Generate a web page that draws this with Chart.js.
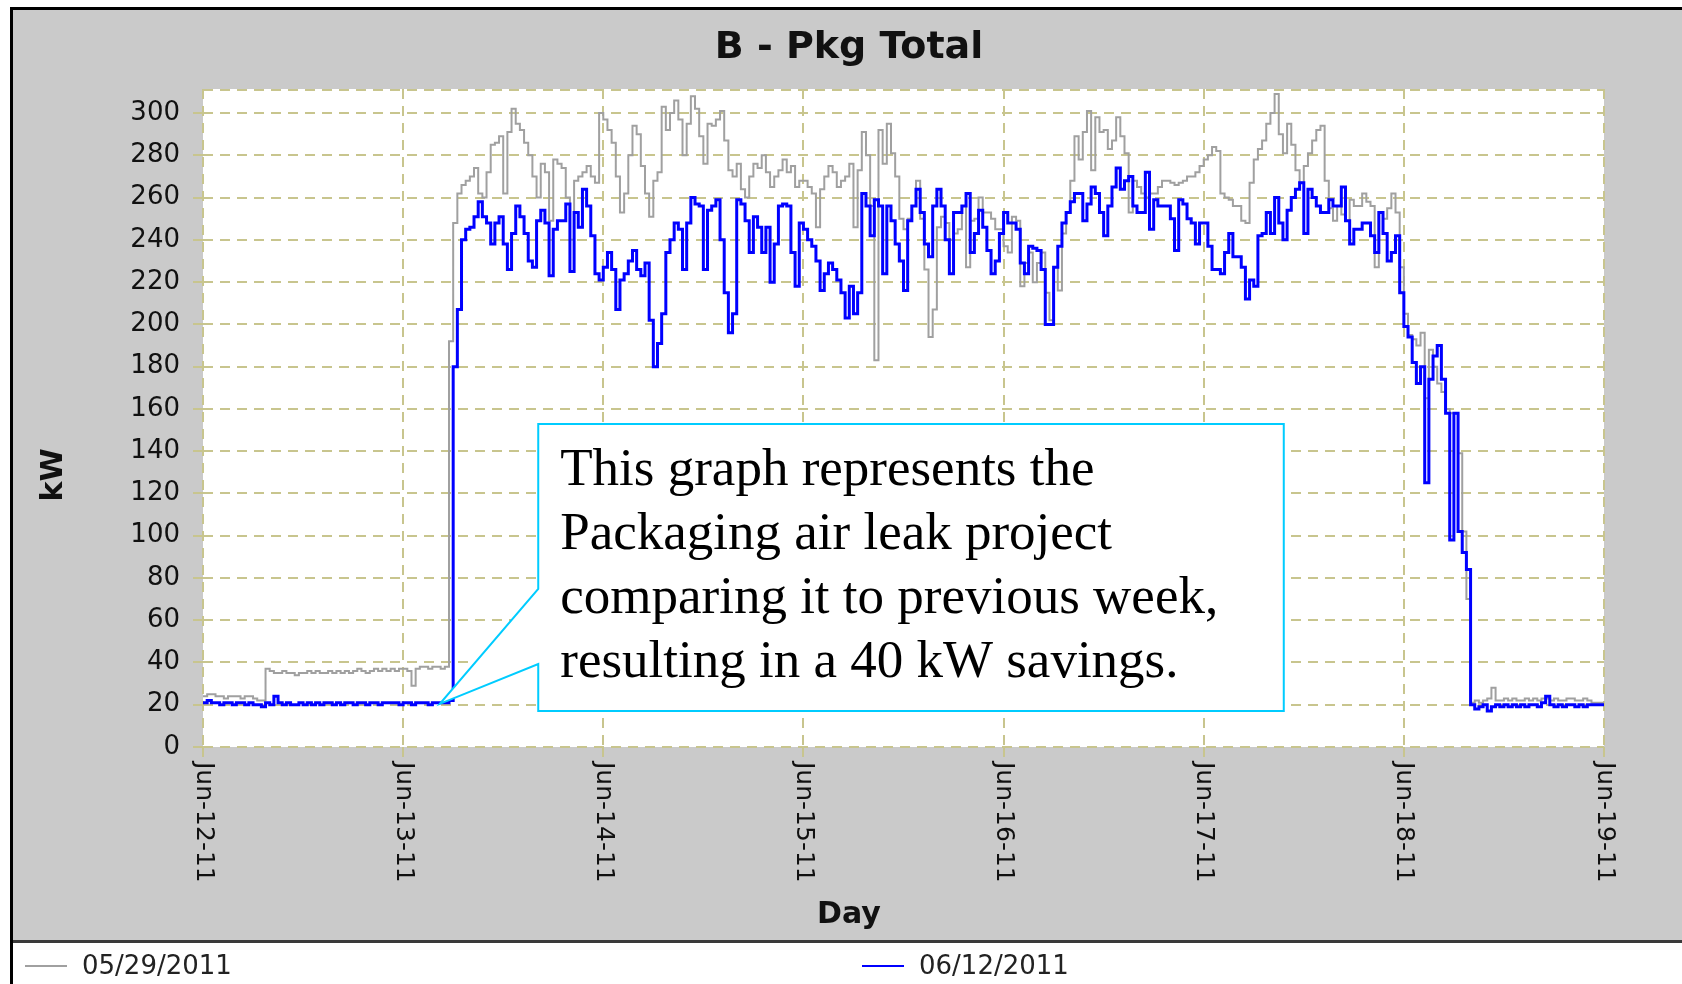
<!DOCTYPE html>
<html>
<head>
<meta charset="utf-8">
<title>B - Pkg Total</title>
<script src="https://cdn.jsdelivr.net/npm/chart.js@4.4.0/dist/chart.umd.min.js"></script>
<style>
  html, body { margin: 0; padding: 0; background: #fff; }
  #pkgChart { display: block; }
</style>
</head>
<body>
<canvas id="pkgChart" width="1682" height="984"></canvas>
<script>
// kW readings every 30 minutes, Jun-12-11 00:00 .. Jun-19-11 00:00 (one row per day)
const STEP_HOURS = 0.5;

const prevWeekKw = [ // 05/29/2011
  24,25,25,24,24,23,24,24,24,23,24,24,23,22,22,37,36,35,35,36,35,35,34,35,35,36,35,36,35,35,36,35,36,35,36,35,36,37,36,35,36,37,36,37,36,37,36,37,
  37,36,29,37,38,38,37,38,38,37,38,192,248,262,266,268,270,274,262,260,272,285,286,289,262,291,302,295,292,286,280,270,260,276,272,249,278,276,274,260,240,268,270,272,275,270,267,300,
  297,292,286,270,253,262,280,294,290,275,262,251,268,272,303,292,300,306,297,280,295,308,302,289,276,295,294,297,301,287,273,270,276,264,260,270,276,274,280,272,265,270,273,278,272,275,265,268,
  268,265,262,246,264,270,275,272,265,268,270,276,246,273,291,280,256,183,292,276,295,281,270,250,245,250,256,268,250,226,194,207,246,251,248,240,243,245,256,227,249,250,260,253,253,250,245,245,
  237,234,251,249,218,229,234,220,229,234,215,202,227,216,243,253,268,289,278,291,301,273,298,291,292,283,287,298,289,281,253,268,265,262,260,262,262,265,268,268,267,266,267,268,270,270,272,275,
  278,280,284,282,262,260,259,256,256,249,248,267,278,283,287,295,300,309,290,281,295,285,273,267,275,281,287,292,294,268,255,249,256,252,249,259,256,256,262,258,256,227,253,250,255,262,253,227,
  205,195,193,190,196,165,188,180,172,168,160,158,158,139,102,70,21,22,21,22,23,28,22,22,23,22,23,22,22,23,22,23,22,23,23,22,23,22,22,23,23,22,22,23,22,21,21,21,21
];

const thisWeekKw = [ // 06/12/2011
  21,22,21,21,20,21,21,20,21,21,20,21,20,20,19,21,20,24,21,20,21,20,20,21,20,21,20,21,20,21,21,20,21,20,21,21,20,21,21,20,21,21,20,21,21,21,21,20,
  21,21,20,21,21,21,20,21,21,21,21,22,180,207,240,245,246,251,258,251,248,238,248,251,238,226,243,256,251,243,230,227,249,254,248,223,245,249,249,257,225,253,246,264,256,242,224,221,
  227,234,226,207,221,224,230,235,226,223,229,202,180,191,205,234,240,248,245,226,248,260,257,256,226,254,256,259,240,215,196,205,259,257,249,234,251,246,234,246,220,238,256,257,256,234,218,248,
  245,240,237,230,216,224,229,226,221,215,203,218,205,215,262,256,242,259,256,224,256,249,238,230,216,249,256,264,253,238,232,256,264,256,240,224,253,253,256,262,234,243,254,246,235,224,230,243,
  253,248,248,245,229,224,237,236,235,226,200,200,227,237,248,253,258,262,262,249,257,265,262,253,242,256,265,274,264,268,270,256,253,253,272,245,259,256,256,256,250,235,259,257,250,248,238,248,
  248,237,226,226,224,234,243,232,232,227,212,221,218,242,243,253,243,260,248,240,254,260,264,267,243,264,260,256,253,253,259,256,256,265,249,238,245,245,248,248,242,234,253,243,230,234,242,215,
  199,194,182,172,180,125,174,185,190,174,158,98,158,102,92,84,20,18,19,20,17,19,20,19,20,19,20,19,20,19,20,20,19,21,24,20,19,20,19,20,20,19,20,19,20,20,20,20,20
];

const seriesNames = ['05/29/2011', '06/12/2011'];
const seriesColors = ['#a0a0a0', '#0000ff'];
const dayTicks = [0, 24, 48, 72, 96, 120, 144, 168];
const dayLabels = ['Jun-12-11', 'Jun-13-11', 'Jun-14-11', 'Jun-15-11', 'Jun-16-11', 'Jun-17-11', 'Jun-18-11', 'Jun-19-11'];
const kwTicks = [0, 20, 40, 60, 80, 100, 120, 140, 160, 180, 200, 220, 240, 260, 280, 300];
const noteLines = [
  'This graph represents the',
  'Packaging air leak project',
  'comparing it to previous week,',
  'resulting in a 40 kW savings.'
];

const GRID = 'rgb(200,197,142)';
const GRID_DASH = [10, 7];
const SANS = '"DejaVu Sans", Verdana, sans-serif';

// callout box, placed in axis units (hours, kW)
const note = { tipH: 28.4, tipKw: 20.4, leftH: 40.2, rightH: 129.6, topKw: 152.9, bottomKw: 17, joinHiKw: 74.8, joinLoKw: 39.3 };

const toPoints = arr => arr.map((v, i) => ({ x: i * STEP_HOURS, y: v }));

const panelPlugin = {
  id: 'panel',
  beforeDraw(chart) {
    const { ctx, width, height, chartArea: a } = chart;
    ctx.save();
    ctx.fillStyle = '#ffffff';
    ctx.fillRect(0, 0, width, height);
    ctx.fillStyle = '#cacaca';              // grey panel
    ctx.fillRect(13, 10, width - 13, 930);
    ctx.fillStyle = '#000000';              // outer frame
    ctx.fillRect(10, 7, width - 10, 3);
    ctx.fillRect(10, 7, 3, height - 7);
    ctx.fillStyle = '#3a3a3a';              // legend separator
    ctx.fillRect(13, 940, width - 13, 3);
    ctx.fillStyle = '#ffffff';              // plot background
    ctx.fillRect(a.left, a.top, a.right - a.left, a.bottom - a.top);
    ctx.restore();
  },
  beforeDatasetsDraw(chart) {
    // dashed top edge of the plot
    const { ctx, chartArea: a } = chart;
    ctx.save();
    ctx.strokeStyle = GRID;
    ctx.lineWidth = 2;
    ctx.setLineDash(GRID_DASH);
    ctx.beginPath();
    ctx.moveTo(a.left, a.top + 1);
    ctx.lineTo(a.right, a.top + 1);
    ctx.stroke();
    ctx.restore();
  },
  afterDatasetsDraw(chart) {
    const { ctx } = chart;
    const xs = chart.scales.x, ys = chart.scales.y;
    const L = xs.getPixelForValue(note.leftH), R = xs.getPixelForValue(note.rightH);
    const T = ys.getPixelForValue(note.topKw), B = ys.getPixelForValue(note.bottomKw);
    ctx.save();
    ctx.beginPath();
    ctx.moveTo(L, T);
    ctx.lineTo(R, T);
    ctx.lineTo(R, B);
    ctx.lineTo(L, B);
    ctx.lineTo(L, ys.getPixelForValue(note.joinLoKw));
    ctx.lineTo(xs.getPixelForValue(note.tipH), ys.getPixelForValue(note.tipKw));
    ctx.lineTo(L, ys.getPixelForValue(note.joinHiKw));
    ctx.closePath();
    ctx.fillStyle = '#ffffff';
    ctx.fill();
    ctx.strokeStyle = '#00ccff';
    ctx.lineWidth = 2;
    ctx.stroke();
    ctx.fillStyle = '#000000';
    ctx.font = '53px "Liberation Serif", "Times New Roman", serif';
    ctx.textAlign = 'left';
    ctx.textBaseline = 'alphabetic';
    noteLines.forEach((line, i) => ctx.fillText(line, L + 22, T + 61 + i * 64));
    ctx.restore();
  },
  afterDraw(chart) {
    const { ctx, chartArea: a } = chart;
    const xs = chart.scales.x;
    ctx.save();
    ctx.fillStyle = '#111111';

    // title
    ctx.font = 'bold 38px ' + SANS;
    ctx.textAlign = 'center';
    ctx.textBaseline = 'alphabetic';
    ctx.fillText('B - Pkg Total', 849, 58);

    // axis titles
    ctx.font = 'bold 30px ' + SANS;
    ctx.fillText('Day', 849, 923);
    ctx.save();
    ctx.translate(54, 475);
    ctx.rotate(-Math.PI / 2);
    ctx.textBaseline = 'middle';
    ctx.fillText('kW', 0, 0);
    ctx.restore();

    // day labels, turned to read downward
    ctx.font = '25px ' + SANS;
    ctx.textAlign = 'left';
    ctx.textBaseline = 'middle';
    xs.ticks.forEach((t, i) => {
      ctx.save();
      ctx.translate(xs.getPixelForValue(t.value), a.bottom + 15);
      ctx.rotate(Math.PI / 2);
      ctx.fillText(dayLabels[i], 0, 0);
      ctx.restore();
    });

    // legend
    const legendX = [25, 862];
    ctx.font = '26px ' + SANS;
    chart.data.datasets.forEach((ds, i) => {
      ctx.strokeStyle = ds.borderColor;
      ctx.lineWidth = 2;
      ctx.beginPath();
      ctx.moveTo(legendX[i], 966);
      ctx.lineTo(legendX[i] + 42, 966);
      ctx.stroke();
      ctx.fillStyle = '#222222';
      ctx.fillText(ds.label, legendX[i] + 57, 967);
    });
    ctx.restore();
  }
};

const gridOpts = { color: GRID, lineWidth: 2, tickLength: 10, tickColor: GRID, tickWidth: 2 };

new Chart(document.getElementById('pkgChart'), {
  type: 'line',
  data: {
    datasets: [
      { label: seriesNames[0], data: toPoints(prevWeekKw), borderColor: seriesColors[0], borderWidth: 2,
        stepped: true, pointRadius: 0, fill: false, order: 1 },
      { label: seriesNames[1], data: toPoints(thisWeekKw), borderColor: seriesColors[1], borderWidth: 3,
        stepped: true, pointRadius: 0, fill: false, order: 0 }
    ]
  },
  options: {
    responsive: false,
    animation: false,
    devicePixelRatio: 1,
    layout: { padding: { left: 0, top: 89, right: 78, bottom: 0 } },
    plugins: {
      legend: { display: false },
      title: { display: false },
      tooltip: { enabled: false }
    },
    scales: {
      x: {
        type: 'linear',
        min: 0,
        max: 168,
        afterBuildTicks: s => { s.ticks = dayTicks.map(v => ({ value: v })); },
        afterFit: s => { s.height = 237; },
        ticks: { display: false },
        grid: gridOpts,
        border: { display: false, dash: GRID_DASH }
      },
      y: {
        min: 0,
        max: 311.4,
        afterBuildTicks: s => { s.ticks = kwTicks.map(v => ({ value: v })); },
        afterFit: s => { s.width = 203; },
        ticks: { color: '#111111', padding: 13, font: { family: SANS, size: 26 } },
        grid: gridOpts,
        border: { display: false, dash: GRID_DASH }
      }
    }
  },
  plugins: [panelPlugin]
});
</script>
</body>
</html>
